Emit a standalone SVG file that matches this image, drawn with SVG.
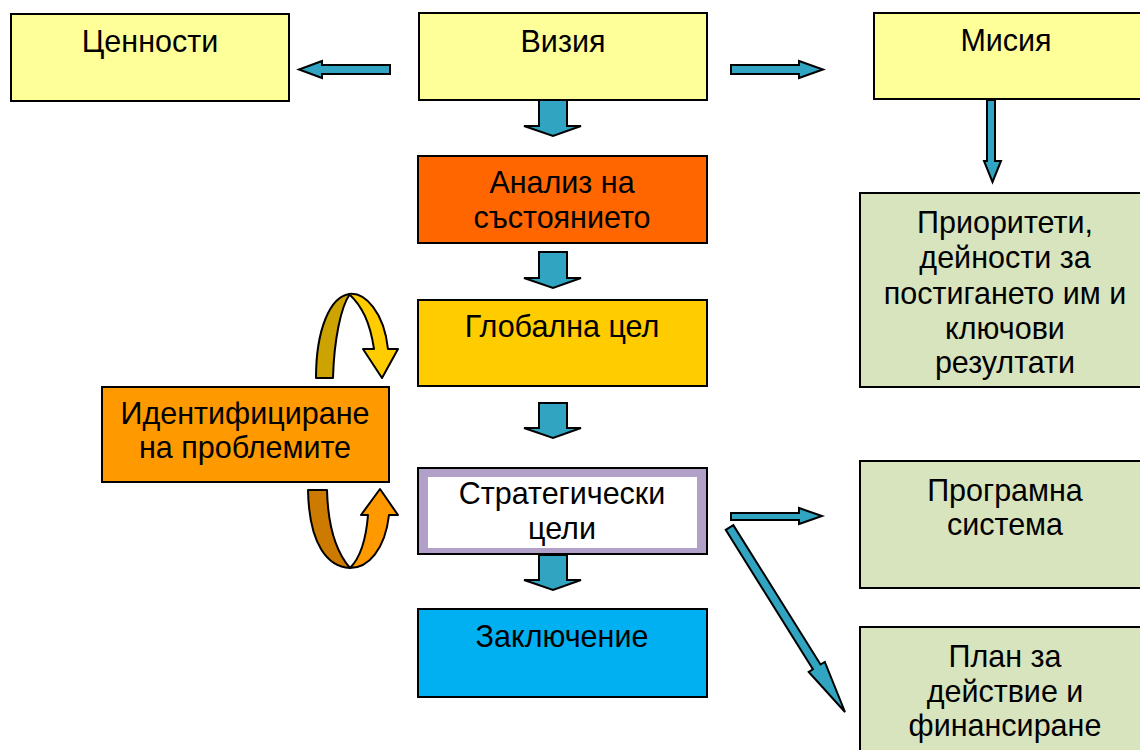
<svg xmlns="http://www.w3.org/2000/svg" width="1140" height="750" viewBox="0 0 1140 750">
<style>
.box{stroke:#000;stroke-width:2}
.t{font-family:"Liberation Sans",Arial,sans-serif;font-size:30.5px;fill:#000;text-anchor:middle}
.arr{fill:#31A4C1;stroke:#000;stroke-width:2;stroke-linejoin:miter}
.crv{stroke:#000;stroke-width:2;stroke-linejoin:round}
</style>
<rect width="1140" height="750" fill="#fff"/>
<g id="connectors">
<polygon class="arr" points="390,65 322,65 322,61 299,69.5 322,78 322,74 390,74"/>
<polygon class="arr" points="731,65 799,65 799,61 823,69.5 799,78 799,74 731,74"/>
<polygon class="arr" points="539,100 567,100 567,126 581,126 553,136 524,126 539,126"/>
<polygon class="arr" points="539,252 567,252 567,278 581,278 553,288 524,278 539,278"/>
<polygon class="arr" points="539,403 567,403 567,428 581,428 553,438 524,428 539,428"/>
<polygon class="arr" points="539,555 567,555 567,580 581,580 553,590 524,580 539,580"/>
<polygon class="arr" points="987,100 995,100 995,161 1001,161 992.5,182 984,161 987,161"/>
<polygon class="arr" points="731,513 799,513 799,508 822,516 799,524 799,520 731,520"/>
<polygon class="arr" points="733.3,525.1 820.5,664.5 824.8,661.9 845,712 808.7,671.9 812.9,669.3 725.7,529.9"/>
<path class="crv" fill="#CCA300" d="M316,378 C316,330 330,296 350,294 C341,306 334,340 333,378 Z"/>
<path class="crv" fill="#FFCC00" d="M349,294 C365,292 384,312 388,349 L398,349 L382,378 L363,349 L374,349 C370,322 362,306 349,294 Z"/>
<path class="crv" fill="#CC7A00" d="M308,490 L327,490 C328,530 337,553 350,568 C328,567 309,545 308,490 Z"/>
<path class="crv" fill="#FF9900" d="M350,568 C368,568 385,550 389,515 L398,515 L380,489 L361,515 L368,515 C366,540 360,558 350,568 Z"/>
</g>
<g id="cennosti"><rect class="box" x="11" y="14" width="278" height="87" fill="#FFFF99"/><text class="t" x="150" y="52">Ценности</text></g>
<g id="vizia"><rect class="box" x="419" y="13" width="288" height="87" fill="#FFFF99"/><text class="t" x="563" y="52">Визия</text></g>
<g id="misia"><rect class="box" x="874" y="13" width="270" height="86" fill="#FFFF99"/><text class="t" x="1006" y="51">Мисия</text></g>
<g id="analiz"><rect class="box" x="418" y="156" width="289" height="87" fill="#FF6600"/><text class="t" x="562" y="193">Анализ на</text><text class="t" x="562" y="228">състоянието</text></g>
<g id="globalna"><rect class="box" x="418" y="300" width="289" height="86" fill="#FFCC00"/><text class="t" x="562" y="337">Глобална цел</text></g>
<g id="identif"><rect class="box" x="102" y="387" width="287" height="95" fill="#FF9900"/><text class="t" x="245" y="424">Идентифициране</text><text class="t" x="245" y="458">на проблемите</text></g>
<g id="strateg"><rect class="box" x="418" y="468" width="289" height="86" fill="#B1A0C7"/><rect x="428" y="477" width="269" height="71" fill="#fff"/><text class="t" x="562" y="504">Стратегически</text><text class="t" x="562" y="539">цели</text></g>
<g id="zakl"><rect class="box" x="418" y="609" width="289" height="88" fill="#00B0F0"/><text class="t" x="562" y="647">Заключение</text></g>
<g id="prioriteti"><rect class="box" x="860" y="193" width="284" height="194" fill="#D7E4BD"/><text class="t" x="1005" y="233">Приоритети,</text><text class="t" x="1005" y="268">дейности за</text><text class="t" x="1005" y="304">постигането им и</text><text class="t" x="1005" y="339">ключови</text><text class="t" x="1005" y="373">резултати</text></g>
<g id="programna"><rect class="box" x="860" y="461" width="284" height="127" fill="#D7E4BD"/><text class="t" x="1005" y="501">Програмна</text><text class="t" x="1005" y="535">система</text></g>
<g id="plan"><rect class="box" x="860" y="627" width="284" height="130" fill="#D7E4BD"/><text class="t" x="1005" y="667">План за</text><text class="t" x="1005" y="702">действие и</text><text class="t" x="1005" y="736">финансиране</text></g>
</svg>
